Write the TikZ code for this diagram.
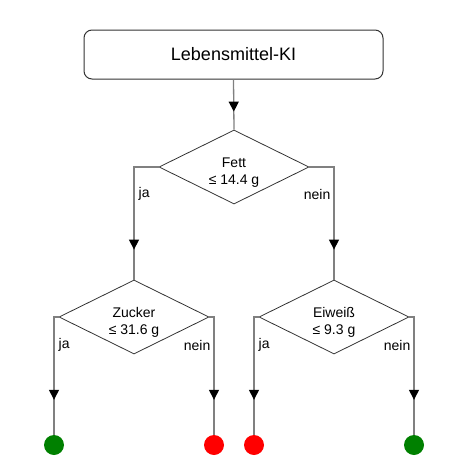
\documentclass[tikz,border=0pt]{standalone}
\usepackage{fontspec}
\setmainfont{Liberation Sans}
\usetikzlibrary{shapes.geometric,arrows.meta,decorations.markings}
\definecolor{linegray}{HTML}{808080}
\definecolor{shapegray}{HTML}{333333}
\definecolor{leafgreen}{HTML}{008000}
\definecolor{leafred}{HTML}{FF0000}
\tikzset{
  titlebox/.style={draw=shapegray, line width=1pt, rounded corners=8pt, minimum width=299pt, minimum height=49pt, inner sep=0pt, font=\fontsize{18}{20}\selectfont},
  decision/.style={diamond, aspect=2, draw=shapegray, line width=0.8pt, minimum width=150pt, minimum height=74pt, inner sep=0pt},
  dtext/.style={align=center, inner sep=0pt, yshift=-5.5pt, font=\fontsize{14}{16.5}\selectfont},
  leafgood/.style={circle, fill=leafgreen, minimum size=20pt, inner sep=0pt},
  leafbad/.style={circle, fill=leafred, minimum size=20pt, inner sep=0pt},
  conn/.style={draw=linegray, line width=1.3pt},
  tipat/.style={postaction={decorate}, decoration={markings, mark=at position #1 with {\arrow[black]{Triangle[length=10pt,width=10pt]}}}},
  lbl/.style={font=\fontsize{14}{16}\selectfont, inner sep=0pt},
}
\begin{document}
\begin{tikzpicture}[x=1pt,y=-1pt]
\useasboundingbox (0,0) rectangle (461,474);
\node[titlebox] (ki) at (233.5,54.5) {Lebensmittel-KI};
\node[decision, label={[dtext]center:{Fett\\≤ 14.4 g}}] (fett) at (234,167) {};
\node[decision, label={[dtext]center:{Zucker\\≤ 31.6 g}}] (zucker) at (134,317) {};
\node[decision, label={[dtext]center:{Eiweiß\\≤ 9.3 g}}] (eiweiss) at (334,317) {};
\node[leafgood] (l1) at (54,445) {};
\node[leafbad] (l2) at (214,445) {};
\node[leafbad] (l3) at (254,445) {};
\node[leafgood] (l4) at (414,445) {};

\draw[conn, tipat=-18pt] (ki.south) -- (fett.north);
\draw[conn, tipat=-30pt] (fett.west) -| node[lbl, pos=0.62, anchor=west, xshift=4pt] {ja} (zucker.north);
\draw[conn, tipat=-30pt] (fett.east) -| node[lbl, pos=0.62, anchor=east, xshift=-3pt] {nein} (eiweiss.north);
\draw[conn, tipat=-35pt] (zucker.west) -| node[lbl, pos=0.62, anchor=west, xshift=4pt] {ja} (l1.north);
\draw[conn, tipat=-35pt] (zucker.east) -| node[lbl, pos=0.62, anchor=east, xshift=-3pt] {nein} (l2.north);
\draw[conn, tipat=-35pt] (eiweiss.west) -| node[lbl, pos=0.62, anchor=west, xshift=4pt] {ja} (l3.north);
\draw[conn, tipat=-35pt] (eiweiss.east) -| node[lbl, pos=0.62, anchor=east, xshift=-3pt] {nein} (l4.north);
\end{tikzpicture}
\end{document}
